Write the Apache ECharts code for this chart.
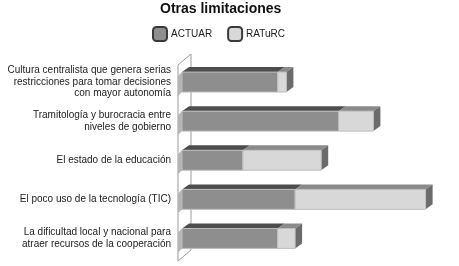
<!DOCTYPE html>
<html>
<head>
<meta charset="utf-8">
<script src="https://cdn.jsdelivr.net/npm/echarts@6/dist/echarts.min.js"></script>
<style>
  html, body { margin: 0; padding: 0; background: #fff; }
  #main { width: 459px; height: 266px; }
</style>
</head>
<body>
<div id="main"></div>
<script>
// categorias (de arriba hacia abajo)
var categorias = [
  'Cultura centralista que genera serias\nrestricciones para tomar decisiones\ncon mayor autonomía',
  'Tramitología y burocracia entre\nniveles de gobierno',
  'El estado de la educación',
  'El poco uso de la tecnología (TIC)',
  'La dificultad local y nacional para\natraer recursos de la cooperación'
];
var serieNombres = ['ACTUAR', 'RATuRC'];
var actuar = [11, 18, 7, 13, 11];
var raturc = [1, 4, 9, 15, 2];

// profundidad del efecto 3D
var DX = 7, DY = 5;

function barra(frente, arriba, lado) {
  return function (params, api) {
    var cat = api.value(0);
    var base = api.value(1);
    var fin = base + api.value(2);
    var p0 = api.coord([base, cat]);
    var p1 = api.coord([fin, cat]);
    var h = api.size([0, 1])[1] * 0.51;
    var x0 = p0[0], x1 = p1[0];
    var yT = p0[1] - h / 2, yB = p0[1] + h / 2;
    var hijos = [];
    if (base === 0) {
      // sombra sobre la pared
      hijos.push({
        type: 'polygon',
        shape: { points: [[x0 - 4, yT + 4], [x0, yT], [x0, yB], [x0 - 4, yB + 4]] },
        style: { fill: '#b5b5b5' }
      });
    }
    hijos.push({
      type: 'polygon',
      shape: { points: [[x0, yT], [x0 + DX, yT - DY], [x1 + DX, yT - DY], [x1, yT]] },
      style: { fill: arriba }
    });
    if (lado) {
      hijos.push({
        type: 'polygon',
        shape: { points: [[x1, yT], [x1 + DX, yT - DY], [x1 + DX, yB - DY], [x1, yB]] },
        style: { fill: '#6b6b6b' }
      });
    }
    hijos.push({
      type: 'rect',
      shape: { x: x0, y: yT, width: x1 - x0, height: h },
      style: { fill: frente, stroke: '#bdbdbd', lineWidth: 1 }
    });
    return { type: 'group', children: hijos };
  };
}

var datosActuar = actuar.map(function (v, i) { return [i, 0, v]; });
var datosRaturc = raturc.map(function (v, i) { return [i, actuar[i], v]; });

var myChart = echarts.init(document.getElementById('main'));
var option = {
  animation: false,
  title: {
    text: 'Otras limitaciones',
    left: 160,
    top: 2,
    padding: 0,
    textStyle: { fontFamily: 'Liberation Sans', fontSize: 14, fontWeight: 'bold', color: '#111' }
  },
  legend: {
    data: serieNombres,
    left: 152,
    top: 26,
    padding: 0,
    itemWidth: 14,
    itemHeight: 14,
    itemGap: 15,
    icon: 'roundRect',
    textStyle: { fontFamily: 'Liberation Sans', fontSize: 10, color: '#222', padding: [0, 0, 0, -1] }
  },
  grid: { left: 182, top: 62.5, height: 195.5, right: 16 },
  xAxis: { type: 'value', min: 0, max: 30, show: false },
  yAxis: {
    type: 'category',
    inverse: true,
    data: categorias,
    axisLine: { show: false },
    axisTick: { show: false },
    axisLabel: {
      margin: 11,
      fontFamily: 'Liberation Sans',
      fontSize: 10,
      lineHeight: 11.5,
      color: '#222'
    }
  },
  graphic: [{
    type: 'polygon',
    z: 0,
    shape: { points: [[178, 65], [191, 54], [191, 250], [178, 261]] },
    style: { fill: '#fff', stroke: '#9a9a9a', lineWidth: 1 }
  }],
  series: [
    {
      name: 'ACTUAR',
      type: 'custom',
      renderItem: barra('#8e8e8e', '#4d4d4d', false),
      itemStyle: { color: '#8e8e8e', borderColor: '#3a3a3a', borderWidth: 1 },
      encode: { x: [1, 2], y: 0 },
      data: datosActuar,
      z: 3
    },
    {
      name: 'RATuRC',
      type: 'custom',
      renderItem: barra('#d8d8d8', '#8a8a8a', true),
      itemStyle: { color: '#d8d8d8', borderColor: '#3a3a3a', borderWidth: 1 },
      encode: { x: [1, 2], y: 0 },
      data: datosRaturc,
      z: 3
    }
  ]
};
option && myChart.setOption(option);
</script>
</body>
</html>
